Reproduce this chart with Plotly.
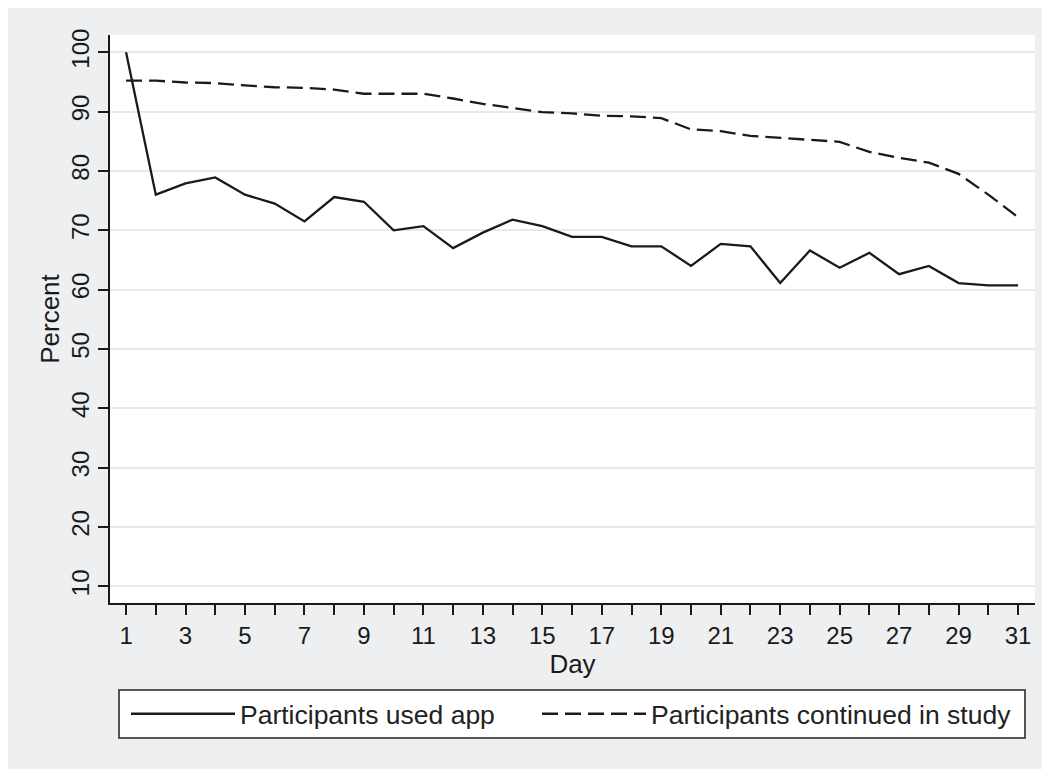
import plotly.graph_objects as go

days = list(range(1, 32))
used_app = [100, 76.0, 77.9, 78.9, 76.0, 74.5, 71.5, 75.6, 74.8, 70.0,
            70.7, 67.0, 69.6, 71.8, 70.7, 68.9, 68.9, 67.3, 67.3, 64.0,
            67.7, 67.3, 61.1, 66.6, 63.7, 66.2, 62.6, 64.0, 61.1, 60.7, 60.7]
continued = [95.2, 95.2, 94.9, 94.8, 94.4, 94.1, 94.0, 93.7, 93.0, 93.0,
             93.0, 92.2, 91.3, 90.6, 89.9, 89.7, 89.3, 89.2, 88.9, 87.0,
             86.7, 85.9, 85.6, 85.3, 84.9, 83.2, 82.2, 81.4, 79.5, 76.0, 72.2]
y_ticks = [10, 20, 30, 40, 50, 60, 70, 80, 90, 100]
x_ticks = list(range(1, 32, 2))

FONT = "Liberation Sans, Arial, sans-serif"
BG = "#eeeff1"
INK = "#1a1a1a"

# page offset of the figure (default body margin)
OFF = 8
# plot area in screen pixels: x 110..1035, y 35..603
L, T = 110 - OFF, 35 - OFF
PW, PH = 925, 568
R = 1050 - L - PW
B = 769 - T - PH


def px(xs):
    return (xs - OFF - L) / PW


def py(ys):
    return (T + PH - (ys - OFF)) / PH


fig = go.Figure()
fig.add_trace(go.Scatter(x=days, y=used_app, mode="lines", name="Participants used app",
                         line=dict(color=INK, width=2.3), legend="legend"))
fig.add_trace(go.Scatter(x=days, y=continued, mode="lines", name="Participants continued in study",
                         line=dict(color=INK, width=2.3, dash="16px,7px"), legend="legend2"))

leg_common = dict(orientation="h", yanchor="middle", xanchor="left", y=py(714),
                  bgcolor="rgba(0,0,0,0)", borderwidth=0, itemwidth=104,
                  font=dict(size=26.5, color="#222222"))

fig.update_layout(
    width=1050, height=769,
    margin=dict(l=L, r=R, t=T, b=B),
    paper_bgcolor=BG, plot_bgcolor="white",
    font=dict(family=FONT, size=24, color=INK),
    showlegend=True,
    legend=dict(x=px(126), **leg_common),
    legend2=dict(x=px(537), **leg_common),
    shapes=[
        dict(type="rect", xref="paper", yref="paper", x0=px(119), x1=px(1025),
             y0=py(738), y1=py(690), fillcolor="white",
             line=dict(width=1.5, color="#222222"), layer="below"),
    ],
)
fig.update_xaxes(range=[0.46, 31.57], tickvals=x_ticks, ticks="outside", ticklen=10,
                 tickcolor=INK, tickwidth=1.5, showline=True, linecolor=INK, linewidth=1.5,
                 showgrid=False, zeroline=False,
                 minor=dict(tickvals=days, ticks="outside", ticklen=10, tickcolor=INK,
                            tickwidth=1.5, showgrid=False),
                 title=dict(text="Day", standoff=0, font=dict(size=26)), tickfont=dict(size=24))
fig.update_yaxes(range=[7.2, 102.9], tickvals=y_ticks, ticks="outside", ticklen=10,
                 tickcolor=INK, tickwidth=1.5, showline=True, linecolor=INK, linewidth=1.5,
                 showgrid=True, gridcolor="#e8e8e8", gridwidth=2, zeroline=False,
                 tickangle=-90, title=dict(text="Percent", standoff=0, font=dict(size=26)),
                 tickfont=dict(size=24))

fig.write_html("out.html")
